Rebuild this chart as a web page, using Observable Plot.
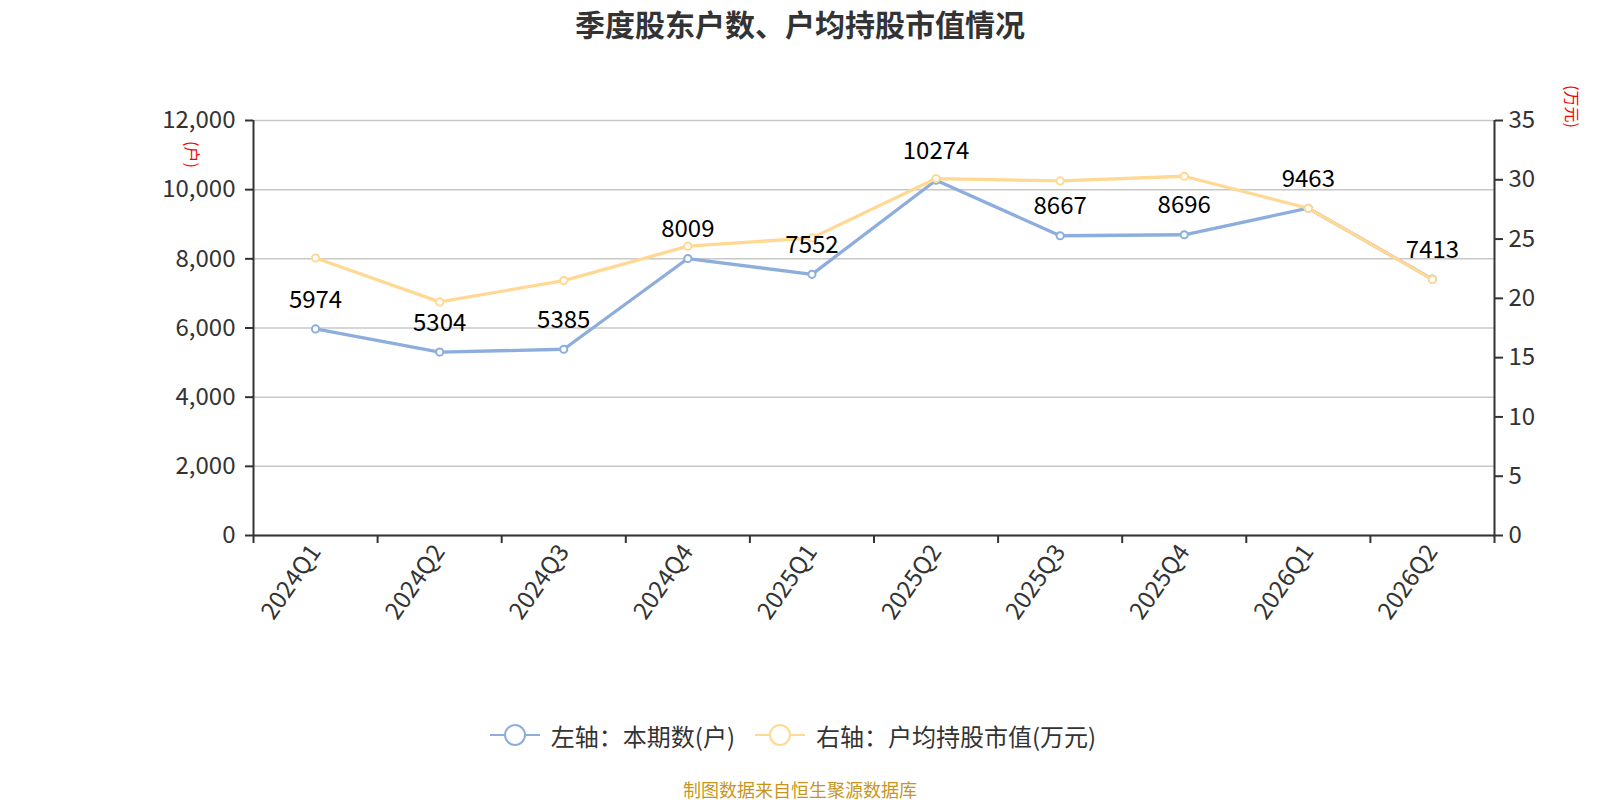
<!DOCTYPE html>
<html><head><meta charset="utf-8">
<script src="https://cdn.jsdelivr.net/npm/d3@7"></script>
<script src="https://cdn.jsdelivr.net/npm/@observablehq/plot@0.6"></script>
<style>
html,body{margin:0;padding:0;background:#fff;}
body{width:1600px;height:800px;overflow:hidden;font-family:"Noto Sans CJK SC","Noto Sans",sans-serif;}
#title{height:46px;line-height:46px;text-align:center;font-size:30px;font-weight:bold;color:#333;}
#legend{margin-top:49px;height:40px;display:flex;justify-content:center;align-items:center;font-size:24px;color:#333;padding-right:14px;}
.item{display:flex;align-items:center;margin:0 10px;}
.item svg{margin-right:11px;}
#footer{margin-top:22px;height:24px;line-height:24px;text-align:center;font-size:18px;color:#c8961e;}
</style></head>
<body>
<div id="title">季度股东户数、户均持股市值情况</div>
<div id="chart"></div>
<div id="legend"></div>
<div id="footer">制图数据来自恒生聚源数据库</div>
<script>
const categories = ["2024Q1","2024Q2","2024Q3","2024Q4","2025Q1","2025Q2","2025Q3","2025Q4","2026Q1","2026Q2"];
const holders = [5974,5304,5385,8009,7552,10274,8667,8696,9463,7413];
const avgValue = [23.4,19.7,21.5,24.4,25.1,30.1,29.9,30.3,27.6,21.6];
const leftTicks = [0,2000,4000,6000,8000,10000,12000];
const rightTicks = [0,5,10,15,20,25,30,35];
const leftMax = 12000, rightMax = 35;
const seriesNames = ["左轴：本期数(户)","右轴：户均持股市值(万元)"];
const colors = ["#8daedc","#ffd993"];

const toLeft = v => v * leftMax / rightMax;
const data = categories.map((c,i)=>({i, x:i+0.5, cat:c, h:holders[i], a:toLeft(avgValue[i])}));
const axisColor = "#333";

const chart = Plot.plot({
  width:1600, height:620,
  marginTop:74, marginBottom:131, marginLeft:253, marginRight:106,
  style:{fontFamily:'"Noto Sans CJK SC","Noto Sans",sans-serif', background:"#fff"},
  x:{domain:[0,categories.length], axis:null},
  y:{domain:[0,leftMax], axis:null},
  marks:[
    Plot.gridY(leftTicks, {stroke:"#c8c8c8", strokeOpacity:1, strokeWidth:1.5}),
    Plot.axisY(leftTicks, {anchor:"left", tickSize:8, tickPadding:10, fontSize:24, tickFormat:d3.format(","), stroke:axisColor, strokeWidth:2, fill:"#333", label:null}),
    Plot.axisY(rightTicks.map(toLeft), {anchor:"right", tickSize:8, tickPadding:6, fontSize:24, tickFormat:d=>Math.round(d*rightMax/leftMax), stroke:axisColor, strokeWidth:2, fill:"#333", label:null}),
    Plot.axisX(d3.range(categories.length+1), {anchor:"bottom", tickSize:8, tickFormat:()=>"", stroke:axisColor, strokeWidth:2, label:null}),
    Plot.axisX(data.map(d=>d.x), {anchor:"bottom", tickSize:0, tickPadding:12, tickRotate:-55, fontSize:24, fill:"#333", tickFormat:d=>categories[Math.round(d-0.5)], label:null}),
    Plot.ruleX([0], {stroke:axisColor, strokeWidth:2}),
    Plot.ruleX([categories.length], {stroke:axisColor, strokeWidth:2}),
    Plot.ruleY([0], {stroke:axisColor, strokeWidth:2}),
    Plot.line(data, {x:"x", y:"h", stroke:colors[0], strokeWidth:3.3}),
    Plot.dot(data, {x:"x", y:"h", r:3.6, fill:"#fff", stroke:colors[0], strokeWidth:2}),
    Plot.line(data, {x:"x", y:"a", stroke:colors[1], strokeWidth:3.3}),
    Plot.dot(data, {x:"x", y:"a", r:3.6, fill:"#fff", stroke:colors[1], strokeWidth:2}),
    Plot.text(data, {x:"x", y:"h", text:d=>String(d.h), dy:-29, fontSize:24, fill:"#000"}),
    Plot.text(["(户)"], {frameAnchor:"top-left", textAnchor:"middle", lineAnchor:"middle", dx:-62, dy:34, rotate:90, fontSize:16, fill:"#ff0000"}),
    Plot.text(["(万元)"], {frameAnchor:"top-right", textAnchor:"middle", lineAnchor:"middle", dx:77, dy:-14, rotate:90, fontSize:16, fill:"#ff0000"})
  ]
});
document.getElementById("chart").appendChild(chart);

const legend = document.getElementById("legend");
seriesNames.forEach((name,k)=>{
  const item = document.createElement("div");
  item.className = "item";
  item.innerHTML = `<svg width="50" height="26"><line x1="0" y1="13" x2="50" y2="13" stroke="${colors[k]}" stroke-width="2"/><circle cx="25" cy="13" r="10" fill="#fff" stroke="${colors[k]}" stroke-width="2"/></svg><span>${name}</span>`;
  legend.appendChild(item);
});
</script>
</body></html>
